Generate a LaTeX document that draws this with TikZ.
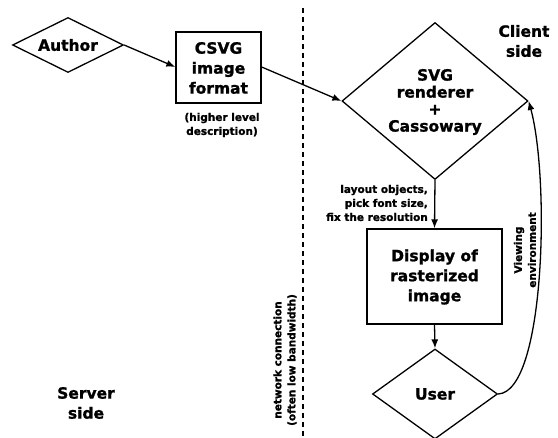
\documentclass[tikz,border=0pt]{standalone}
\usepackage{fontspec}
\setmainfont{DejaVu Sans}[BoldFeatures={FakeBold=1.3}]
\usetikzlibrary{shapes.geometric,arrows.meta}
\tikzset{
  every node/.style={font=\bfseries},
  dia/.style={shape=diamond,draw,line width=1.3pt,inner sep=0pt},
  boxn/.style={draw,line width=1.3pt,inner sep=0pt},
  big/.style={font=\bfseries\fontsize{15.5}{20}\selectfont,align=center,inner sep=0pt},
  small/.style={font=\bfseries\fontsize{10.5}{14}\selectfont,inner sep=0pt},
  arr/.style={line width=1.3pt,-{Latex[length=9pt,width=7pt]}}
}
\begin{document}
\begin{tikzpicture}[x=1pt,y=-1pt]
\useasboundingbox (0,0) rectangle (558,438);
% dashed divider
\coordinate (dtop) at (303,8);
\coordinate (dbot) at (303,438);
\draw[line width=1.3pt,dash pattern=on 5pt off 4pt] (dtop) -- (dbot);
% nodes
\node[dia,minimum width=111pt,minimum height=55pt] (author) at (68,45) {};
\node[big] (authort) at (68,45) {Author};
\node[boxn,minimum width=85pt,minimum height=71pt] (csvg) at (218.5,67.5) {};
\node[big] (csvgt) at (218.5,68) {CSVG\\image\\format};
\node[small,align=center] (hl) at (222,125) {(higher level\\description)};
\node[dia,minimum width=186pt,minimum height=157pt] (svg) at (435,101) {};
\node[big,font=\bfseries\fontsize{15.5}{17}\selectfont] (svgt) at (435,102) {SVG\\renderer\\+\\Cassowary};
\node[boxn,minimum width=135pt,minimum height=95pt] (disp) at (434.5,276.5) {};
\node[big] (dispt) at (434.5,277) {Display of\\rasterized\\image};
\node[dia,minimum width=125pt,minimum height=90pt] (usr) at (435,394) {};
\node[big] (usrt) at (435,394) {User};
% labels
\node[big] (client) at (524,41) {Client\\side};
\node[big] (server) at (86,403) {Server\\side};
\node[small,align=right,anchor=east] (lay) at (428,203) {layout objects,\\pick font size,\\fix the resolution};
\node[small,align=center,rotate=90] (net) at (285,360) {network connection\\(often low bandwidth)};
\node[small,align=center,rotate=90] (view) at (525,250) {Viewing\\environment};
% connectors
\draw[arr] (author.east) -- (csvg.west |- 0,67);
\draw[arr] (csvg.east |- 0,67) -- (svg.west);
\draw[arr] (svg.south) -- (disp.north);
\draw[arr] (disp.south) -- (usr.north);
\draw[arr] (usr.east) .. controls (545,392) and (550,180) .. (svg.east);
\end{tikzpicture}
\end{document}
